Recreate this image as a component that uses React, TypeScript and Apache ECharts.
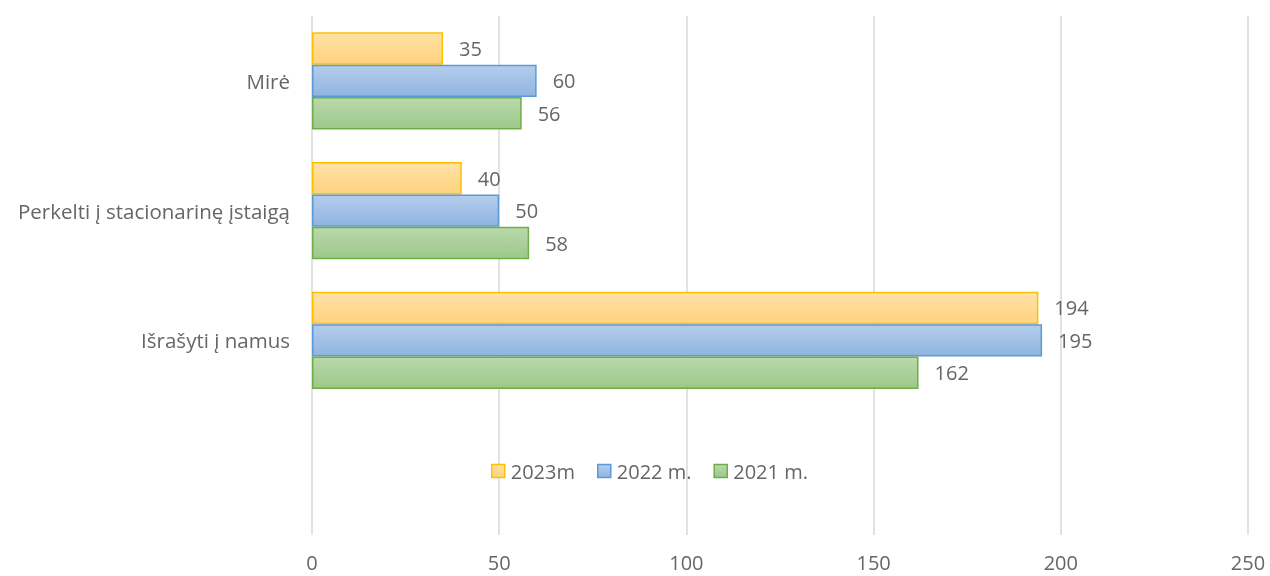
import React, { useEffect, useRef } from "react";
import * as echarts from "echarts";

// Categories from bottom to top (ECharts category y axis starts at the bottom).
// The first, blank slot holds the legend, as in the reference.
const categories = ["", "Išrašyti į namus", "Perkelti į stacionarinę įstaigą", "Mirė"];
const seriesNames = ["2023m", "2022 m.", "2021 m."];
const values2023 = [194, 40, 35];
const values2022 = [195, 50, 60];
const values2021 = [162, 58, 56];
const xTicks = [0, 50, 100, 150, 200, 250];

const FONT = "'Open Sans', sans-serif";
const TEXT = "#666666";

function grad(top: string, bottom: string) {
  return new echarts.graphic.LinearGradient(0, 0, 0, 1, [
    { offset: 0, color: top },
    { offset: 1, color: bottom },
  ]);
}

export default function App() {
  const ref = useRef<HTMLDivElement>(null);
  useEffect(() => {
    if (!ref.current) return;
    const chart = echarts.init(ref.current, null, { renderer: "svg" });
    const styles = [
      { fill: grad("#FFE2A8", "#FFD27E"), border: "#FFC000" },
      { fill: grad("#B5CDEC", "#8FB4E1"), border: "#5B9BD5" },
      { fill: grad("#B9D9AC", "#9CC88A"), border: "#70AD47" },
    ];
    const allValues = [values2023, values2022, values2021];
    const series = seriesNames.map((name, i) => ({
      name,
      type: "bar",
      data: [null, ...allValues[i]],
      barGap: "0%",
      barCategoryGap: "25%",
      itemStyle: {
        color: styles[i].fill,
        borderColor: styles[i].border,
        borderWidth: 1.5,
      },
      label: {
        show: true,
        position: "right",
        distance: 16,
        color: TEXT,
        fontFamily: FONT,
        fontSize: 20,
      },
    }));
    chart.setOption({
      animation: false,
      grid: { left: 312, right: 22, top: 16, bottom: 41, containLabel: false },
      legend: {
        data: seriesNames.map((n, i) => ({
          name: n,
          itemStyle: { color: styles[i].fill, borderColor: styles[i].border, borderWidth: 1.5 },
        })),
        left: 486,
        top: 456,
        itemWidth: 13,
        itemHeight: 13,
        itemGap: 22,
        icon: "rect",
        textStyle: { color: TEXT, fontFamily: FONT, fontSize: 20, padding: [0, 0, 0, 1] },
      },
      xAxis: {
        type: "value",
        min: xTicks[0],
        max: xTicks[xTicks.length - 1],
        interval: 50,
        axisLine: { show: false },
        axisTick: { show: false },
        splitLine: { lineStyle: { color: "#D9D9D9", width: 1.5 } },
        axisLabel: { color: TEXT, fontFamily: FONT, fontSize: 20, margin: 17 },
      },
      yAxis: {
        type: "category",
        data: categories,
        axisLine: { show: false },
        axisTick: { show: false },
        axisLabel: { color: TEXT, fontFamily: FONT, fontSize: 20.5, margin: 22 },
      },
      series,
    });
    return () => chart.dispose();
  }, []);
  return (
    <div
      ref={ref}
      style={{ position: "fixed", left: 0, top: 0, width: 1270, height: 576 }}
    />
  );
}
